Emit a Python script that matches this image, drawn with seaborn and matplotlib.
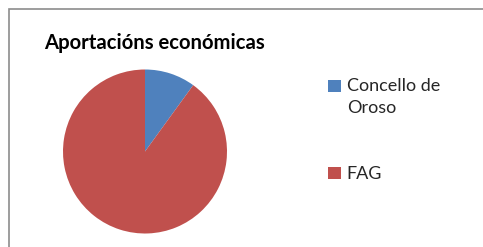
import matplotlib
matplotlib.use("Agg")
import matplotlib.pyplot as plt
import matplotlib.patches as mpatches
from matplotlib.legend_handler import HandlerPatch
import seaborn as sns

labels = ["Concello de\nOroso", "FAG"]
values = [10, 90]
colors = ["#4F81BD", "#C0504D"]
title = "Aportacións económicas"

sns.set_theme(style="white")
plt.rcParams["font.family"] = ["Lato", "DejaVu Sans"]

W, H = 483, 247
fig = plt.figure(figsize=(W / 100, H / 100), dpi=100)
fig.patch.set_facecolor("white")

# chart frame (cropped at right and bottom)
fig.patches.append(mpatches.Rectangle((8.5 / W, -0.1), 1.2, 1.1 - 9.5 / H,
                                      transform=fig.transFigure, fill=False,
                                      edgecolor="#8c8c8c", linewidth=1.2))

ax = fig.add_axes([63 / W, 13 / H, 164 / W, 165 / H])
wedges, _ = ax.pie(values, colors=colors, startangle=90, counterclock=False,
                   wedgeprops=dict(linewidth=0))
ax.set_xlim(-1, 1)
ax.set_ylim(-1, 1)
ax.set_aspect("equal")
ax.axis("off")

fig.text(44 / W, 1 - 49 / H, title, fontsize=14.6, fontweight="bold",
         color="black", va="baseline", ha="left")


def first_line(legend, orig_handle, xdescent, ydescent, width, height, fontsize):
    # put the square next to the first line of a two-line label
    return mpatches.Rectangle((-xdescent, -ydescent + 8.3), width, height)


leg = fig.legend(wedges, labels, loc="upper left", bbox_to_anchor=(312 / W, 1 - 62 / H),
                 frameon=False, fontsize=13, handlelength=0.68, handleheight=0.68,
                 handletextpad=0.35, labelspacing=2.77,
                 handler_map={wedges[0]: HandlerPatch(patch_func=first_line)})
for t in leg.get_texts():
    t.set_linespacing(1.45)

fig.savefig("out.png", dpi=100)
